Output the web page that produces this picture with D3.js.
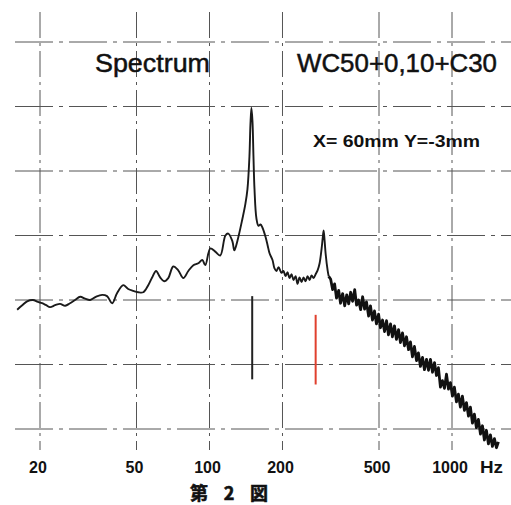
<!DOCTYPE html>
<html lang="ja">
<head>
  <meta charset="UTF-8" />
  <title>Spectrum</title>
  <script src="https://d3js.org/d3.v7.min.js"></script>
  <style>
    body {
      margin: 0;
      padding: 0;
      background-color: white;
    }

    svg {
      background-color: white;
      font-family: "Liberation Sans", Arial, sans-serif;
    }

    .grid-line {
      stroke: #555;
      stroke-width: 1px;
    }

    .spectrum-line {
      fill: none;
      stroke: #1a1a1a;
      stroke-width: 1.9px;
      stroke-linejoin: round;
    }

    .spectrum-noise {
      fill: none;
      stroke: #111;
      stroke-width: 2.8px;
      stroke-linejoin: round;
    }

    .tick-label {
      fill: #111;
      font-size: 16px;
      font-weight: bold;
    }

    .title {
      fill: #111;
      stroke: #111;
      stroke-width: 0.5px;
    }
  </style>
</head>
<body>
  <svg id="chart" width="511" height="505"></svg>

  <script>
    // Plot frame: 20 Hz grid line at left, 1000 Hz grid line at right
    const margin = { top: 42, right: 59, bottom: 73, left: 40 };
    const width = 511 - margin.left - margin.right;
    const height = 505 - margin.top - margin.bottom;

    const gridFreqs = [20, 50, 100, 200, 500, 1000];
    const tickLabels = ["20", "50", "100", "200", "500", "1000"];
    const gridLevels = [0, 10, 20, 30, 40, 50, 60];

    // markers under the two resonance peaks (Hz, low dB, high dB)
    const markerFreqs = [150, 274];
    const markerLow = [7.7, 6.9];
    const markerHigh = [20.6, 17.7];

    // above this the trace turns into a dense noisy band
    const noiseStart = 310;

    // spectrum trace [Hz, dB]
    const spectrum = [
      [16.1, 18.5], [16.9, 19.2], [17.7, 19.8], [18.7, 20.0], [19.6, 19.7],
      [20.4, 19.5], [21.2, 19.2], [22.0, 18.9], [23.1, 19.2], [24.2, 19.4],
      [25.4, 19.1], [26.6, 19.5], [27.9, 20.0], [29.3, 20.5], [30.7, 20.2],
      [32.2, 20.0], [34.0, 20.5], [36.1, 20.8], [37.8, 20.6], [39.7, 19.5],
      [41.6, 21.1], [44.1, 22.3], [46.2, 21.7], [48.5, 21.4], [50.8, 21.2],
      [53.3, 21.2], [55.9, 22.3], [58.0, 23.5], [60.2, 24.5], [62.6, 23.5],
      [65.0, 22.9], [67.6, 23.4], [70.9, 25.2], [74.3, 24.6], [78.0, 23.4],
      [81.8, 24.5], [85.8, 25.4], [89.9, 25.7], [93.4, 26.2], [96.1, 25.4],
      [100.8, 28.0], [105.6, 27.5], [110.7, 26.9], [116.3, 30.0], [119.5, 30.3],
      [124.3, 29.1], [126.6, 27.7], [130.4, 29.2], [136.7, 32.6], [140.6, 34.9],
      [143.4, 37.2], [146.1, 42.2], [147.5, 47.2], [148.9, 49.8], [150.4, 47.7],
      [151.8, 42.3], [153.3, 37.2], [156.2, 32.6], [159.2, 31.5], [162.3, 31.7],
      [165.4, 31.2], [170.2, 29.8], [173.6, 28.5], [177.0, 27.2], [181.9, 26.2],
      [185.4, 24.9], [188.9, 24.5], [192.6, 25.1], [198.1, 24.2], [201.9, 24.5],
      [205.8, 23.7], [209.8, 24.3], [213.8, 23.4], [217.9, 24.0], [222.1, 23.1],
      [226.4, 23.7], [230.7, 22.5], [235.1, 23.5], [239.7, 22.8], [244.3, 23.5],
      [249.0, 22.9], [253.8, 23.7], [258.7, 23.1], [263.6, 23.8], [268.7, 23.4],
      [273.9, 24.0], [279.1, 24.6], [284.5, 25.7], [290.0, 28.0], [292.8, 29.5],
      [295.5, 30.8], [298.3, 29.2], [301.2, 27.2], [307.0, 24.6], [310.0, 23.7],
      [316, 23.2], [322, 21.6], [328, 22.5], [334, 20.3], [341, 21.5],
      [347, 19.5], [354, 21.0], [361, 19.1], [368, 20.8], [375, 19.4],
      [382, 21.2], [389, 19.8], [397, 21.6], [404, 19.2], [412, 20.0],
      [420, 18.5], [428, 20.5], [436, 18.6], [444, 19.7], [453, 17.5],
      [461, 19.1], [470, 16.9], [479, 18.3], [488, 16.3], [498, 17.8],
      [507, 15.7], [517, 16.9], [527, 15.1], [537, 16.8], [547, 14.6],
      [558, 16.3], [568, 14.3], [579, 16.0], [590, 13.9], [602, 15.4],
      [613, 13.4], [625, 14.9], [637, 12.9], [649, 14.3], [662, 12.3],
      [674, 13.5], [687, 11.2], [700, 12.8], [714, 10.6], [727, 11.8],
      [741, 9.7], [756, 11.1], [770, 9.2], [785, 10.8], [800, 9.1],
      [815, 10.8], [831, 8.8], [847, 10.3], [863, 8.3], [879, 9.5],
      [896, 6.5], [913, 7.5], [931, 6.3], [949, 8.5], [967, 6.2],
      [985, 7.2], [1004, 5.1], [1023, 6.5], [1043, 4.2], [1063, 5.4],
      [1083, 3.4], [1104, 5.1], [1125, 2.9], [1147, 4.1], [1169, 2.0],
      [1191, 3.4], [1214, 0.9], [1237, 2.3], [1261, 0.2], [1285, 1.5],
      [1310, -0.8], [1335, 0.5], [1360, -1.7], [1386, -0.2], [1413, -2.3],
      [1440, -0.9], [1468, -2.7], [1496, -1.5], [1525, -2.9], [1554, -2.0]
    ];

    const svg = d3.select("#chart");

    const x = d3.scaleLog()
      .domain([20, 1000])
      .range([margin.left, margin.left + width]);

    const y = d3.scaleLinear()
      .domain([0, 60])
      .range([margin.top + height - 3, margin.top]);

    // Grid - broken lines like the scanned chart paper
    svg.selectAll(".grid-v")
      .data(gridFreqs)
      .join("line")
      .attr("class", "grid-line grid-v")
      .attr("x1", d => x(d))
      .attr("x2", d => x(d))
      .attr("y1", 12)
      .attr("y2", 450)
      .style("stroke-dasharray", "26,5,3,5");

    svg.selectAll(".grid-h")
      .data(gridLevels)
      .join("line")
      .attr("class", "grid-line grid-h")
      .attr("x1", 15)
      .attr("x2", 511)
      .attr("y1", d => y(d))
      .attr("y2", d => y(d))
      .style("stroke-dasharray", "38,6,4,6");

    // Spectrum trace: smooth part, then the noisy high-frequency band
    const smoothLine = d3.line()
      .x(d => x(d[0]))
      .y(d => y(d[1]))
      .curve(d3.curveCatmullRom.alpha(0.5));

    const noiseLine = d3.line()
      .x(d => x(d[0]))
      .y(d => y(d[1]));

    svg.append("path")
      .datum(spectrum.filter(d => d[0] <= noiseStart))
      .attr("class", "spectrum-line")
      .attr("d", smoothLine);

    svg.append("path")
      .datum(spectrum.filter(d => d[0] >= noiseStart))
      .attr("class", "spectrum-noise")
      .attr("d", noiseLine);

    // Peak markers
    svg.selectAll(".marker")
      .data(markerFreqs)
      .join("line")
      .attr("class", "marker")
      .attr("x1", d => x(d))
      .attr("x2", d => x(d))
      .attr("y1", (d, i) => y(markerHigh[i]))
      .attr("y2", (d, i) => y(markerLow[i]))
      .attr("stroke", (d, i) => i === 0 ? "#222" : "#e0402e")
      .attr("stroke-width", 2);

    // Frequency labels
    svg.selectAll(".tick-label")
      .data(gridFreqs)
      .join("text")
      .attr("class", "tick-label")
      .attr("x", d => x(d) - 2)
      .attr("y", 473)
      .attr("text-anchor", "middle")
      .text((d, i) => tickLabels[i]);

    svg.append("text")
      .attr("class", "tick-label")
      .attr("x", 480)
      .attr("y", 473)
      .attr("textLength", 23)
      .attr("lengthAdjust", "spacingAndGlyphs")
      .text("Hz");

    // Titles
    svg.append("text")
      .attr("class", "title")
      .attr("x", 95)
      .attr("y", 72)
      .attr("font-size", 26)
      .attr("textLength", 115)
      .attr("lengthAdjust", "spacingAndGlyphs")
      .text("Spectrum");

    svg.append("text")
      .attr("class", "title")
      .attr("x", 297)
      .attr("y", 72)
      .attr("font-size", 26)
      .attr("textLength", 200)
      .attr("lengthAdjust", "spacingAndGlyphs")
      .text("WC50+0,10+C30");

    svg.append("text")
      .attr("x", 313)
      .attr("y", 147)
      .attr("font-size", 17)
      .attr("font-weight", "bold")
      .attr("fill", "#111")
      .attr("textLength", 167)
      .attr("lengthAdjust", "spacingAndGlyphs")
      .text("X= 60mm Y=-3mm");

    svg.append("text")
      .attr("x", 190)
      .attr("y", 500)
      .attr("font-size", 18)
      .attr("font-weight", "bold")
      .attr("fill", "#111")
      .attr("stroke", "#111")
      .attr("stroke-width", 0.6)
      .style("font-family", "'Noto Sans CJK JP', sans-serif")
      .attr("textLength", 78)
      .attr("lengthAdjust", "spacing")
      .text("第 2 図");
  </script>
</body>
</html>
